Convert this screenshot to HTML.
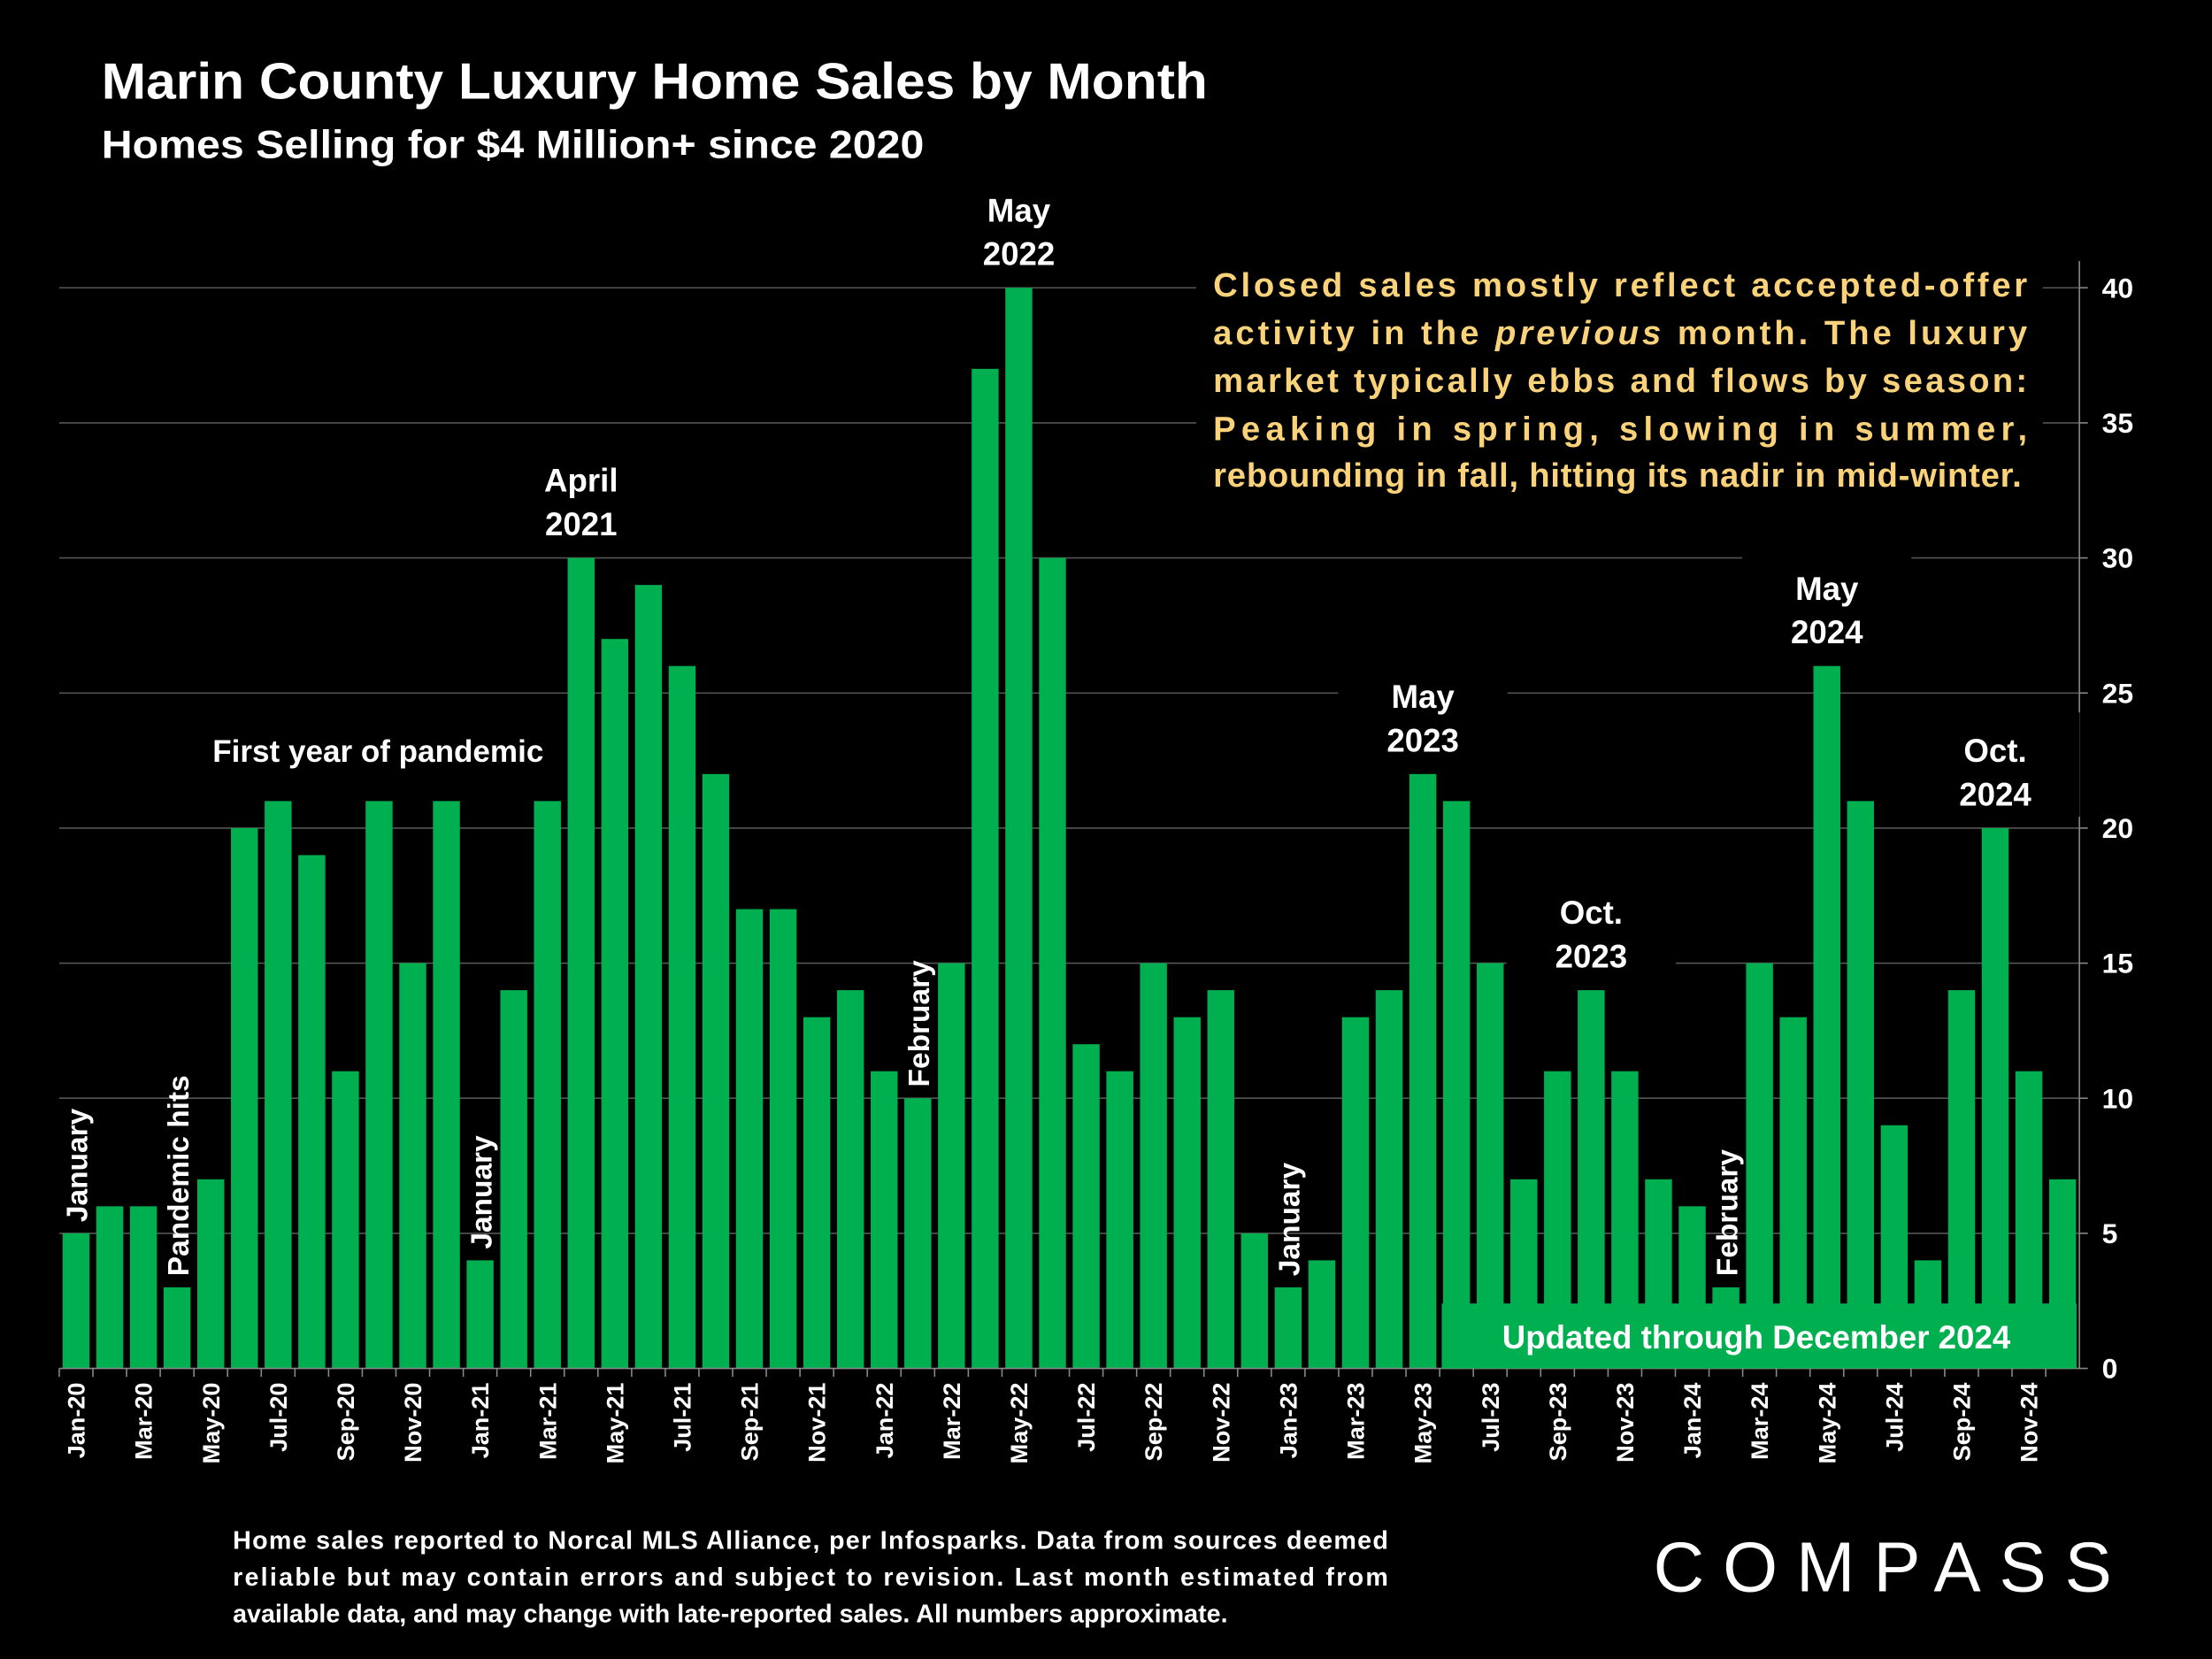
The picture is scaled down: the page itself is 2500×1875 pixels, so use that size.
<!DOCTYPE html>
<html><head><meta charset="utf-8"><style>
html,body{margin:0;padding:0;background:#000;}
svg{display:block;}
text{font-family:"Liberation Sans",sans-serif;font-weight:bold;}
</style></head><body>
<svg id="chart" width="2500" height="1875" viewBox="0 0 1568 1176" preserveAspectRatio="none" xmlns="http://www.w3.org/2000/svg">
<rect width="1568" height="1176" fill="#000"/>
<text x="72" y="70" fill="#fff" font-size="36" textLength="784" lengthAdjust="spacingAndGlyphs">Marin County Luxury Home Sales by Month</text>
<text x="72" y="112" fill="#fff" font-size="28" textLength="583" lengthAdjust="spacingAndGlyphs">Homes Selling for $4 Million+ since 2020</text>
<g id="grid"></g>
<g id="bars"></g>
<g id="yaxis"></g>
<g id="xaxis"></g>
<g id="annot"></g>
<rect x="848" y="180" width="600" height="175" fill="#000"/>
<g fill="#FAD27A" font-size="24">
<text x="860" y="210" textLength="577" lengthAdjust="spacing">Closed sales mostly reflect accepted-offer</text>
<text x="860" y="244" textLength="577" lengthAdjust="spacing">activity in the <tspan font-style="italic">previous</tspan> month. The luxury</text>
<text x="860" y="278" textLength="577" lengthAdjust="spacing">market typically ebbs and flows by season:</text>
<text x="860" y="312" textLength="577" lengthAdjust="spacing">Peaking in spring, slowing in summer,</text>
<text x="860" y="345" textLength="573" lengthAdjust="spacing">rebounding in fall, hitting its nadir in mid-winter.</text>
</g>
<rect x="1022" y="924" width="450" height="46" fill="#00B050"/>
<text x="1245" y="956" fill="#fff" font-size="23" text-anchor="middle">Updated through December 2024</text>
<g fill="#fff" font-size="18">
<text x="165" y="1098" textLength="819" lengthAdjust="spacing">Home sales reported to Norcal MLS Alliance, per Infosparks. Data from sources deemed</text>
<text x="165" y="1124" textLength="819" lengthAdjust="spacing">reliable but may contain errors and subject to revision.  Last month estimated from</text>
<text x="165" y="1150">available data, and may change with late-reported sales. All numbers approximate.</text>
</g>
<g>
<text x="1172" y="1128" fill="#fff" font-size="50" style="font-weight:normal" letter-spacing="8" textLength="333" lengthAdjust="spacing">COMPASS</text>
</g>
<script>
const months=["Jan-20","Feb-20","Mar-20","Apr-20","May-20","Jun-20","Jul-20","Aug-20","Sep-20","Oct-20","Nov-20","Dec-20","Jan-21","Feb-21","Mar-21","Apr-21","May-21","Jun-21","Jul-21","Aug-21","Sep-21","Oct-21","Nov-21","Dec-21","Jan-22","Feb-22","Mar-22","Apr-22","May-22","Jun-22","Jul-22","Aug-22","Sep-22","Oct-22","Nov-22","Dec-22","Jan-23","Feb-23","Mar-23","Apr-23","May-23","Jun-23","Jul-23","Aug-23","Sep-23","Oct-23","Nov-23","Dec-23","Jan-24","Feb-24","Mar-24","Apr-24","May-24","Jun-24","Jul-24","Aug-24","Sep-24","Oct-24","Nov-24","Dec-24"];
const sales=[5,6,6,3,7,20,21,19,11,21,15,21,4,14,21,30,27,29,26,22,17,17,13,14,11,10,15,37,40,30,12,11,15,13,14,5,3,4,13,14,22,21,15,7,11,14,11,7,6,3,15,13,26,21,9,4,14,20,11,7];
const yTicks=[0,5,10,15,20,25,30,35,40];
const annotations=[["Jan-20","January",1],["Apr-20","Pandemic hits",1],["Jan-21","January",1],["Feb-22","February",1],["Jan-23","January",1],["Feb-24","February",1],["Apr-21","April|2021",0],["May-22","May|2022",0],["May-23","May|2023",0],["Oct-23","Oct.|2023",0],["May-24","May|2024",0],["Oct-24","Oct.|2024",0]];
const NS="http://www.w3.org/2000/svg";
const X0=42,X1=1474,Y0=970,Y40=204;
const slot=(X1-X0)/months.length;
const xC=i=>X0+slot*(i+0.5);
const yS=v=>Y0-(Y0-Y40)*v/40;
function mk(tag,parent,attrs){const e=document.createElementNS(NS,tag);for(const k in attrs)e.setAttribute(k,attrs[k]);parent.appendChild(e);return e;}
const grid=document.getElementById('grid'),bars=document.getElementById('bars'),ya=document.getElementById('yaxis'),xa=document.getElementById('xaxis'),an=document.getElementById('annot');
yTicks.forEach(t=>{
  if(t>0){const l=mk('line',grid,{x1:X0,x2:X1,y1:yS(t),y2:yS(t),stroke:'#555','stroke-width':1});
  
  }
  const tk=mk('line',ya,{x1:X1,x2:X1+6,y1:yS(t),y2:yS(t),stroke:'#888'});
  
  
  const tx=mk('text',ya,{x:X1+16,y:yS(t)+7,fill:'#fff','font-size':20});
  tx.textContent=t;
  
  
});
const ax=mk('line',ya,{x1:X1,x2:X1,y1:185,y2:Y0,stroke:'#888'});


sales.forEach((v,i)=>{
  const bw=slot*0.8;
  const r=mk('rect',bars,{x:xC(i)-bw/2,y:yS(v),width:bw,height:Y0-yS(v),fill:'#00B050'});
  
  
});
const bl=mk('line',xa,{x1:X0,x2:X1,y1:Y0,y2:Y0,stroke:'#888'});


months.forEach((m,i)=>{
  const tk=mk('line',xa,{x1:X0+slot*i,x2:X0+slot*i,y1:Y0,y2:Y0+6,stroke:'#888'});
  
  
  if(i%2==0){
    const t=mk('text',xa,{x:0,y:0,fill:'#fff','font-size':17,'text-anchor':'end',transform:`translate(${xC(i)+6},${Y0+10}) rotate(-90)`});
    t.textContent=m;
    
    
  }
});
const fy=mk('text',an,{x:268,y:540,fill:'#fff','font-size':22,'text-anchor':'middle'});
fy.textContent='First year of pandemic';


annotations.forEach(a=>{
  const i=months.indexOf(a[0]);const v=sales[i];
  if(a[2]){
    const t=mk('text',an,{x:0,y:0,fill:'#fff','font-size':21,transform:`translate(${xC(i)+8},${yS(v)-8}) rotate(-90)`});
    t.textContent=a[1];
    
    
  }else{
    const parts=a[1].split('|');
    const bg=mk('rect',an,{x:xC(i)-60,y:yS(v)-82,width:120,height:74,fill:'#000'});
    
    
    parts.forEach((p,k)=>{
      const t=mk('text',an,{x:xC(i),y:yS(v)-47+k*31,fill:'#fff','font-size':23,'text-anchor':'middle'});
      t.textContent=p;
      
      
    });
  }
});
</script>
</svg>
</body></html>
